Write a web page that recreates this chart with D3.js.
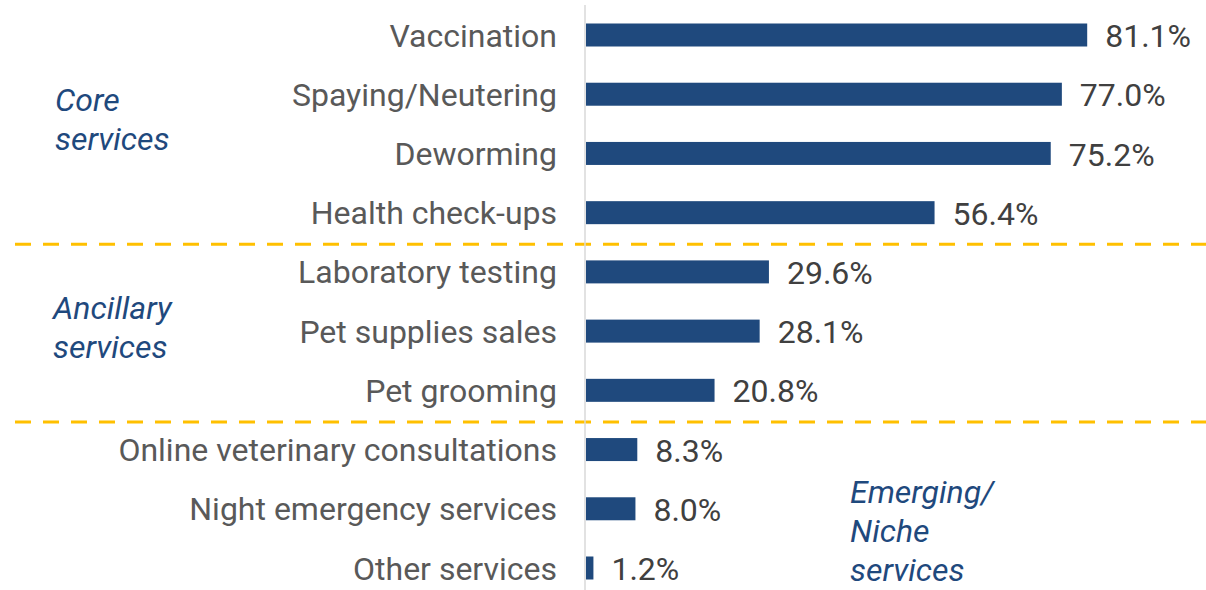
<!DOCTYPE html>
<html>
<head>
<meta charset="utf-8">
<script src="https://cdn.jsdelivr.net/npm/d3@7"></script>
<style>
  body { margin: 0; background: #fff; }
  text { font-family: Roboto, "Noto Sans", sans-serif; }
</style>
</head>
<body>
<svg width="1206" height="590"></svg>
<script>
const categories = [
  "Vaccination", "Spaying/Neutering", "Deworming", "Health check-ups",
  "Laboratory testing", "Pet supplies sales", "Pet grooming",
  "Online veterinary consultations", "Night emergency services", "Other services"
];
const values = [81.1, 77.0, 75.2, 56.4, 29.6, 28.1, 20.8, 8.3, 8.0, 1.2];
// group boundaries: dashed line after these categories
const groupBreaks = ["Health check-ups", "Pet grooming"];
const groupLabels = [
  { lines: ["Core", "services"], x: 55, y: 111 },
  { lines: ["Ancillary", "services"], x: 53, y: 319 },
  { lines: ["Emerging/", "Niche", "services"], x: 850, y: 503 }
];

const data = categories.map((c, i) => ({ name: c, value: values[i] }));

const svg = d3.select("svg");
const x0 = 586;
const fs = "32px";

const x = d3.scaleLinear().domain([0, 100]).range([x0, x0 + 618]);
const y = d3.scalePoint().domain(categories).range([35, 568]);
const step = y.step();
const barH = 23;

// group separators
groupBreaks.forEach(name => {
  const yy = y(name) + step / 2 + 2;
  svg.append("line")
    .attr("x1", 15).attr("x2", 1206)
    .attr("y1", yy).attr("y2", yy)
    .attr("stroke", "#ffc000")
    .attr("stroke-width", 3)
    .attr("stroke-dasharray", "16,12");
});

// vertical axis line
svg.append("line")
  .attr("x1", x0 - 1).attr("x2", x0 - 1)
  .attr("y1", 5).attr("y2", 590)
  .attr("stroke", "#d9d9d9")
  .attr("stroke-width", 1.5);

svg.selectAll(".bar")
  .data(data)
  .enter()
  .append("rect")
  .attr("class", "bar")
  .attr("x", x(0))
  .attr("y", d => y(d.name) - barH / 2)
  .attr("width", d => x(d.value) - x(0))
  .attr("height", barH)
  .style("fill", "#1f497d");

svg.selectAll(".cat")
  .data(data)
  .enter()
  .append("text")
  .attr("class", "cat")
  .attr("x", x0 - 29)
  .attr("y", d => y(d.name))
  .attr("dy", "0.36em")
  .attr("text-anchor", "end")
  .style("font-size", fs)
  .style("fill", "#595959")
  .text(d => d.name);

svg.selectAll(".val")
  .data(data)
  .enter()
  .append("text")
  .attr("class", "val")
  .attr("x", d => x(d.value) + 18)
  .attr("y", d => y(d.name))
  .attr("dy", "0.38em")
  .style("font-size", fs)
  .style("fill", "#404040")
  .text(d => d.value.toFixed(1) + "%");

groupLabels.forEach(g => {
  const t = svg.append("text")
    .attr("x", g.x)
    .attr("y", g.y)
    .style("font-size", fs)
    .style("font-style", "italic")
    .style("fill", "#1f497d");
  g.lines.forEach((l, i) => {
    t.append("tspan")
      .attr("x", g.x)
      .attr("dy", i == 0 ? 0 : 39)
      .text(l);
  });
});
</script>
</body>
</html>
